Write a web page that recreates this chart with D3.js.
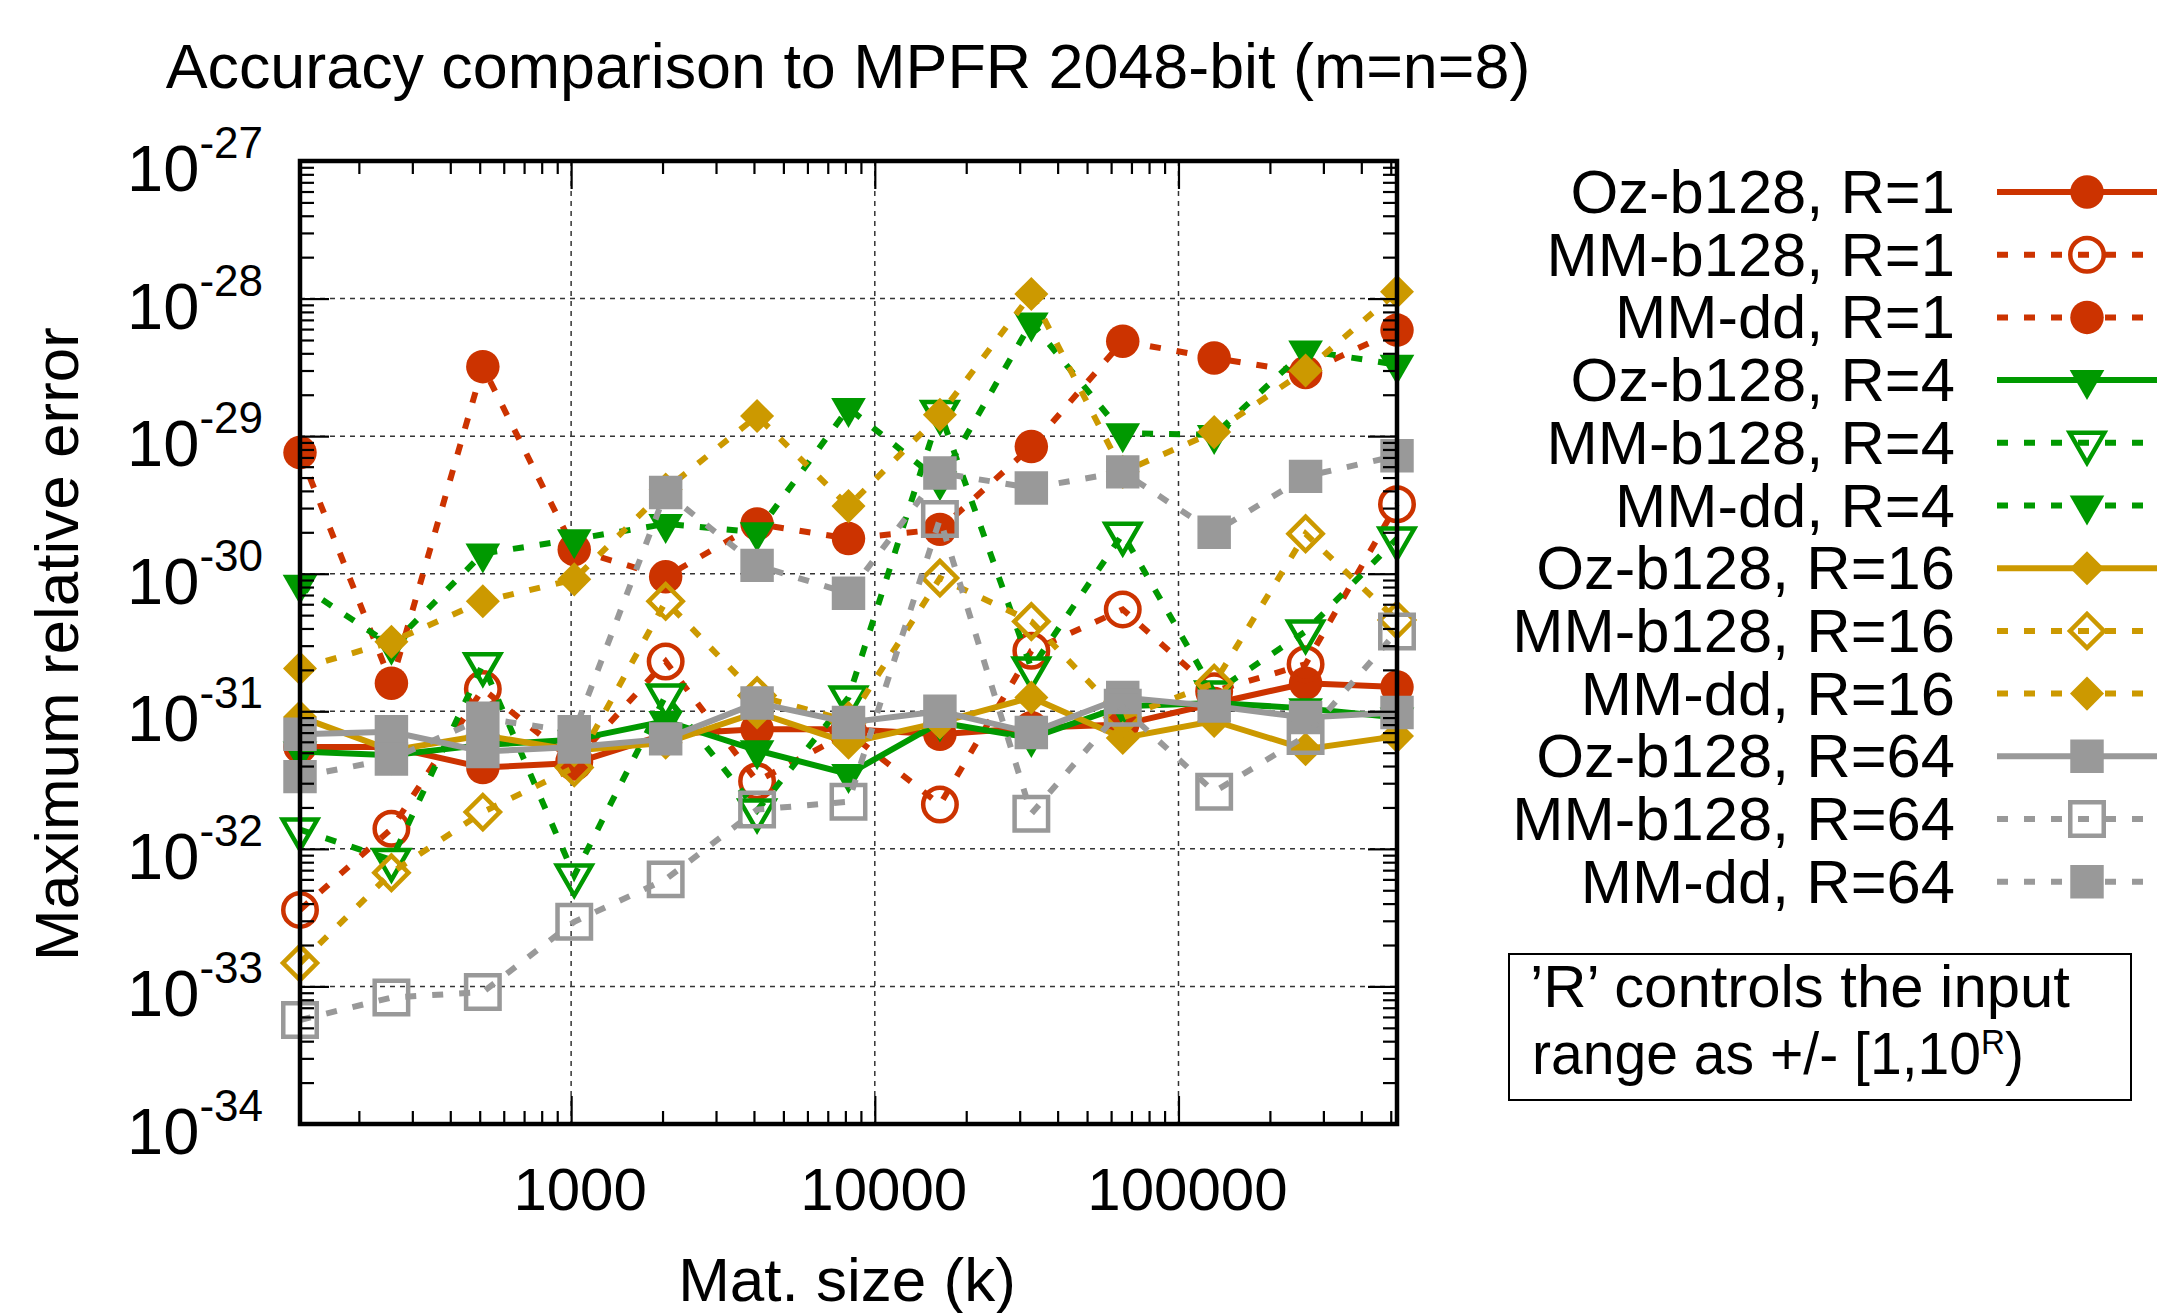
<!DOCTYPE html>
<html>
<head>
<meta charset="utf-8">
<script src="https://cdn.jsdelivr.net/npm/d3@7"></script>
<style>
  body { margin: 0; background: #fff; }
  svg { display: block; }
  text { font-family: "Liberation Sans", Arial, sans-serif; fill: #000; }
</style>
</head>
<body>
<svg id="chart" width="2157" height="1313"></svg>
<script>
// matrix sizes (k), one point per power of two
const sizes = [128, 256, 512, 1024, 2048, 4096, 8192, 16384, 32768, 65536, 131072, 262144, 524288];

// max relative error
const ozB128R1  = [5.5e-32, 5.5e-32, 3.9e-32, 4.2e-32, 6.8e-32, 7.4e-32, 7.4e-32, 6.8e-32, 7.6e-32, 8.0e-32, 1.14e-31, 1.6e-31, 1.5e-31];
const mmB128R1  = [3.6e-33, 1.4e-32, 1.45e-31, 4.3e-32, 2.3e-31, 3.1e-32, 7.0e-32, 2.1e-32, 2.75e-31, 5.5e-31, 1.4e-31, 2.2e-31, 3.2e-30];
const mmDdR1    = [7.6e-30, 1.6e-31, 3.2e-29, 1.5e-30, 9.5e-31, 2.3e-30, 1.8e-30, 2.1e-30, 8.4e-30, 4.9e-29, 3.7e-29, 2.9e-29, 5.9e-29];
const ozB128R4  = [5.1e-32, 4.8e-32, 5.7e-32, 6.2e-32, 8.5e-32, 5.2e-32, 3.5e-32, 8.3e-32, 6.4e-32, 1.09e-31, 1.15e-31, 1.05e-31, 9.0e-32];
const mmB128R4  = [1.38e-32, 8.3e-33, 2.2e-31, 6.4e-33, 1.3e-31, 1.9e-32, 1.26e-31, 1.5e-29, 2.05e-31, 1.95e-30, 1.37e-31, 3.8e-31, 1.8e-30];
const mmDdR4    = [8.3e-31, 3.0e-31, 1.4e-30, 1.78e-30, 2.3e-30, 2.0e-30, 1.6e-29, 4.7e-30, 6.7e-29, 1.05e-29, 1.02e-29, 4.2e-29, 3.3e-29];
const ozB128R16 = [9.1e-32, 5.2e-32, 6.7e-32, 5.2e-32, 5.9e-32, 9.8e-32, 5.9e-32, 8.3e-32, 1.26e-31, 6.4e-32, 8.5e-32, 5.3e-32, 6.6e-32];
const mmB128R16 = [1.48e-33, 6.7e-33, 1.85e-32, 3.9e-32, 6.3e-31, 1.3e-31, 8.5e-32, 9.3e-31, 4.5e-31, 9.0e-32, 1.6e-31, 1.95e-30, 4.6e-31];
const mmDdR16   = [2.05e-31, 3.2e-31, 6.3e-31, 9.1e-31, 4.1e-30, 1.4e-29, 3.1e-30, 1.43e-29, 1.08e-28, 5.5e-30, 1.07e-29, 3.0e-29, 1.12e-28];
const ozB128R64 = [6.8e-32, 7.1e-32, 5.1e-32, 5.5e-32, 6.3e-32, 1.15e-31, 8.3e-32, 1.0e-31, 7.0e-32, 1.26e-31, 1.09e-31, 9.0e-32, 9.8e-32];
const mmB128R64 = [5.7e-34, 8.3e-34, 9.1e-34, 2.95e-33, 6.0e-33, 1.93e-32, 2.2e-32, 2.5e-30, 1.8e-32, 1.06e-31, 2.6e-32, 6.6e-32, 3.8e-31];
const mmDdR64   = [3.35e-32, 4.5e-32, 8.9e-32, 7.1e-32, 3.9e-30, 1.15e-30, 7.2e-31, 5.4e-30, 4.2e-30, 5.5e-30, 2.0e-30, 5.1e-30, 7.2e-30];

const seriesNames = [
    "Oz-b128, R=1", "MM-b128, R=1", "MM-dd, R=1",
    "Oz-b128, R=4", "MM-b128, R=4", "MM-dd, R=4",
    "Oz-b128, R=16", "MM-b128, R=16", "MM-dd, R=16",
    "Oz-b128, R=64", "MM-b128, R=64", "MM-dd, R=64"
];
const seriesValues = [
    ozB128R1, mmB128R1, mmDdR1,
    ozB128R4, mmB128R4, mmDdR4,
    ozB128R16, mmB128R16, mmDdR16,
    ozB128R64, mmB128R64, mmDdR64
];

const yTickExps = [-27, -28, -29, -30, -31, -32, -33, -34];
const xTickLabels = [1000, 10000, 100000];

const titleText = "Accuracy comparison to MPFR 2048-bit (m=n=8)";
const xTitle = "Mat. size (k)";
const yTitle = "Maximum relative error";

// styles per range group and per method
const groupColor = ["#cc3300", "#009900", "#cc9900", "#999999"];
const groupMarker = ["circle", "triangle", "diamond", "square"];
const methodStyle = [
    {dashed: false, filled: true},   // Oz-b128
    {dashed: true,  filled: false},  // MM-b128
    {dashed: true,  filled: true}    // MM-dd
];

const series = seriesNames.map((name, i) => ({
    name: name,
    values: sizes.map((s, j) => ({x: s, y: seriesValues[i][j]})),
    color: groupColor[Math.floor(i / 3)],
    marker: groupMarker[Math.floor(i / 3)],
    dashed: methodStyle[i % 3].dashed,
    filled: methodStyle[i % 3].filled
}));

const box = {left: 300, right: 1397, top: 161, bottom: 1124};
const dash = "11,16";
const lineWidth = 6;

const svg = d3.select("#chart");

const scale = {
    x: d3.scaleLog().domain([128, 524288]).range([box.left, box.right]),
    y: d3.scaleLog().domain([1e-34, 1e-27]).range([box.bottom, box.top])
};

const symbolFor = (type) => {
    if (type == "circle") return {path: d3.symbol().type(d3.symbolCircle).size(880)(), rot: 0};
    if (type == "triangle") return {path: d3.symbol().type(d3.symbolTriangle).size(520)(), rot: 180};
    if (type == "diamond") return {path: d3.symbol().type(d3.symbolSquare).size(580)(), rot: 45};
    return {path: d3.symbol().type(d3.symbolSquare).size(1120)(), rot: 0};
};

const drawMarker = (g, s, px, py) => {
    const sym = symbolFor(s.marker);
    g.append("path")
        .attr("d", sym.path)
        .attr("transform", `translate(${px},${py}) rotate(${sym.rot})`)
        .attr("fill", s.filled ? s.color : "none")
        .attr("stroke", s.filled ? "none" : s.color)
        .attr("stroke-width", s.filled ? 0 : 4.5);
};

// minor tick values
const yMajor = yTickExps.map(e => Math.pow(10, e));
const yMinor = [];
for (let e = -34; e < -27; e++) {
    for (let m = 2; m <= 9; m++) yMinor.push(m * Math.pow(10, e));
}
const xMajor = xTickLabels;
const xMinor = [];
for (let e = 2; e <= 5; e++) {
    for (let m = 2; m <= 9; m++) {
        const v = m * Math.pow(10, e);
        if (v >= 128 && v <= 524288 && v != 1000 && v != 10000 && v != 100000) xMinor.push(v);
    }
}

// grid
const grid = svg.append("g").attr("class", "grid")
    .attr("stroke", "#333").attr("stroke-width", 1.5).attr("stroke-dasharray", "5,5");
grid.selectAll(".gx").data(xMajor).enter().append("line")
    .attr("x1", d => scale.x(d)).attr("x2", d => scale.x(d))
    .attr("y1", box.top).attr("y2", box.bottom);
grid.selectAll(".gy").data(yMajor.slice(1, -1)).enter().append("line")
    .attr("x1", box.left).attr("x2", box.right)
    .attr("y1", d => scale.y(d)).attr("y2", d => scale.y(d));

// series: line then points, in legend order
const line = d3.line().x(d => scale.x(d.x)).y(d => scale.y(d.y));
const plot = svg.append("g").attr("class", "series");
series.forEach(s => {
    const g = plot.append("g");
    g.append("path")
        .attr("d", line(s.values))
        .attr("fill", "none")
        .attr("stroke", s.color)
        .attr("stroke-width", lineWidth)
        .attr("stroke-dasharray", s.dashed ? dash : null);
    s.values.forEach(d => drawMarker(g, s, scale.x(d.x), scale.y(d.y)));
});

// axes: ticks on all four sides, pointing in
const tickAxis = (axisFn, sc, vals, size, tx, ty) => {
    const g = svg.append("g")
        .attr("transform", `translate(${tx},${ty})`)
        .call(axisFn(sc).tickValues(vals).tickSize(size).tickSizeOuter(0).tickFormat(""));
    g.select(".domain").remove();
    g.selectAll(".tick line").attr("stroke", "#000").attr("stroke-width", 2.2);
};
tickAxis(d3.axisLeft, scale.y, yMajor, -29, box.left, 0);
tickAxis(d3.axisLeft, scale.y, yMinor, -14, box.left, 0);
tickAxis(d3.axisRight, scale.y, yMajor, -29, box.right, 0);
tickAxis(d3.axisRight, scale.y, yMinor, -14, box.right, 0);
tickAxis(d3.axisBottom, scale.x, xMajor, -28, 0, box.bottom);
tickAxis(d3.axisBottom, scale.x, xMinor, -13, 0, box.bottom);
tickAxis(d3.axisTop, scale.x, xMajor, -28, 0, box.top);
tickAxis(d3.axisTop, scale.x, xMinor, -13, 0, box.top);

svg.append("rect")
    .attr("x", box.left).attr("y", box.top)
    .attr("width", box.right - box.left).attr("height", box.bottom - box.top)
    .attr("fill", "none").attr("stroke", "#000").attr("stroke-width", 4.5);

// tick labels
yTickExps.forEach(e => {
    const t = svg.append("text")
        .attr("x", 263).attr("y", scale.y(Math.pow(10, e)) + 30)
        .attr("text-anchor", "end")
        .attr("font-size", 65);
    t.append("tspan").text("10");
    t.append("tspan").attr("dy", -33).attr("font-size", 44).text(String(e));
});
xTickLabels.forEach(v => {
    svg.append("text")
        .attr("x", scale.x(v) + 9).attr("y", 1210)
        .attr("text-anchor", "middle")
        .attr("font-size", 60)
        .text(String(v));
});

// titles
svg.append("text").attr("x", 848).attr("y", 88)
    .attr("text-anchor", "middle").attr("font-size", 62.8).text(titleText);
svg.append("text").attr("x", 847).attr("y", 1301)
    .attr("text-anchor", "middle").attr("font-size", 62).text(xTitle);
svg.append("text").attr("transform", "translate(78,644) rotate(-90)")
    .attr("text-anchor", "middle").attr("font-size", 62).text(yTitle);

// legend
const legend = svg.append("g").attr("class", "legend");
series.forEach((s, i) => {
    const ly = 192 + 62.7 * i;
    legend.append("text")
        .attr("x", 1955).attr("y", ly + 21)
        .attr("text-anchor", "end").attr("font-size", 61.5)
        .text(s.name);
    legend.append("line")
        .attr("x1", 1997).attr("x2", 2180).attr("y1", ly).attr("y2", ly)
        .attr("stroke", s.color)
        .attr("stroke-width", lineWidth)
        .attr("stroke-dasharray", s.dashed ? dash : null);
    drawMarker(legend, s, 2087, ly);
});

// note box
svg.append("rect")
    .attr("x", 1509).attr("y", 954).attr("width", 622).attr("height", 146)
    .attr("fill", "none").attr("stroke", "#000").attr("stroke-width", 2);
const noteFont = "Lato, 'Open Sans', sans-serif";
const note1 = svg.append("text")
    .attr("x", 1530).attr("y", 1007)
    .attr("font-family", noteFont).attr("font-size", 48)
    .text("\u2019R\u2019 controls the input");
const noteSize = 48 * 540 / note1.node().getComputedTextLength();
note1.attr("font-size", noteSize);
const note2 = svg.append("text")
    .attr("x", 1532).attr("y", 1074)
    .attr("font-family", noteFont).attr("font-size", noteSize);
note2.append("tspan").text("range as +/- [1,10");
note2.append("tspan").attr("dy", -20).attr("font-size", noteSize * 0.58).text("R");
note2.append("tspan").attr("dy", 20).text(")");
// second line is narrower in the reference font; squeeze it to the same span
const w2 = note2.node().getComputedTextLength();
if (w2 > 492) note2.attr("textLength", 492).attr("lengthAdjust", "spacingAndGlyphs");
</script>
</body>
</html>
